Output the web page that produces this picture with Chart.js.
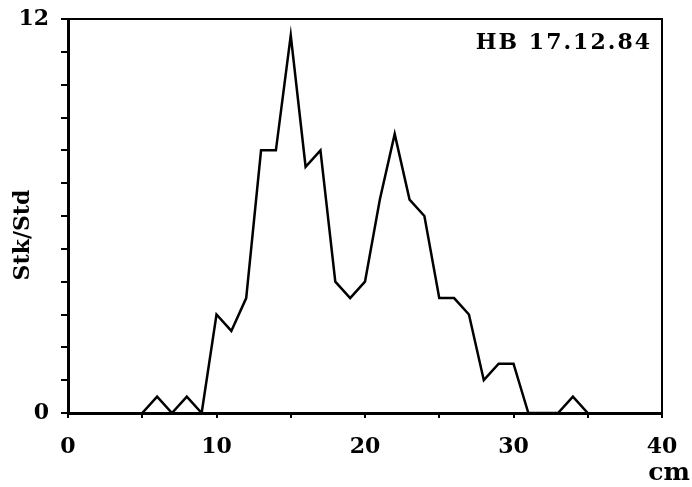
<!DOCTYPE html>
<html><head><meta charset="utf-8">
<script src="https://cdn.jsdelivr.net/npm/chart.js@4/dist/chart.umd.min.js"></script>
<style>html,body{margin:0;padding:0;background:#fff}canvas{display:block}</style>
</head><body>
<canvas id="c" width="692" height="487"></canvas>
<script>
// Length classes (cm) and catch rate (Stk/Std)
const lengthsCm = [5,6,7,8,9,10,11,12,13,14,15,16,17,18,19,20,21,22,23,24,25,26,27,28,29,30,31,32,33,34,35];
const catchRate = [0,0.5,0,0.5,0,3,2.5,3.5,8,8,11.5,7.5,8,4,3.5,4,6.5,8.5,6.5,6,3.5,3.5,3,1,1.5,1.5,0,0,0,0.5,0];
const xTickLabels = [0,10,20,30,40];
const yTickLabels = [0,12];
const annotationText = 'HB 17.12.84';
const xAxisTitle = 'cm';
const yAxisTitle = 'Stk/Std';

const FONT = '"DejaVu Serif", serif';

const points = lengthsCm.map((x, i) => ({x: x, y: catchRate[i]}));

const framePlugin = {
  id: 'frame',
  afterDraw(chart) {
    const {ctx, chartArea: a} = chart;
    ctx.save();
    ctx.strokeStyle = '#000';
    ctx.lineWidth = 2;
    ctx.beginPath();
    ctx.moveTo(a.left, a.top);
    ctx.lineTo(a.right, a.top);
    ctx.lineTo(a.right, a.bottom);
    ctx.stroke();
    ctx.fillStyle = '#000';
    ctx.textBaseline = 'alphabetic';
    ctx.font = 'bold 22px ' + FONT;
    ctx.textAlign = 'right';
    try { ctx.letterSpacing = '2px'; } catch (e) {}
    ctx.fillText(annotationText, a.right - 10, 49);
    try { ctx.letterSpacing = '0px'; } catch (e) {}
    ctx.font = 'bold 25px ' + FONT;
    ctx.fillText(xAxisTitle, 690, 480);
    // y axis title
    ctx.save();
    ctx.translate(29, 235);
    ctx.rotate(-Math.PI / 2);
    ctx.textAlign = 'center';
    ctx.font = 'bold 22px ' + FONT;
    ctx.fillText(yAxisTitle, 0, 0);
    ctx.restore();
    ctx.restore();
  }
};

new Chart(document.getElementById('c'), {
  type: 'line',
  data: {
    datasets: [{
      data: points,
      borderColor: '#000',
      borderWidth: 2.5,
      pointRadius: 0,
      tension: 0,
      fill: false
    }]
  },
  options: {
    responsive: false,
    animation: false,
    devicePixelRatio: 1,
    layout: {padding: {top: 19, right: 30, bottom: 0, left: 0}},
    plugins: {legend: {display: false}, tooltip: {enabled: false}},
    scales: {
      x: {
        type: 'linear', min: 0, max: 40,
        afterFit(s) { s.height = 74; s.paddingRight = 0; s.paddingLeft = 0; },
        ticks: {
          stepSize: 5, autoSkip: false, maxRotation: 0, padding: 16,
          color: '#000', font: {family: FONT, size: 22, weight: 'bold'},
          callback: v => xTickLabels.includes(v) ? String(v) : ''
        },
        grid: {drawOnChartArea: false, drawTicks: true, tickLength: 5, color: '#000', lineWidth: 2},
        border: {display: true, color: '#000', width: 3}
      },
      y: {
        min: 0, max: 12,
        afterFit(s) { s.width = 68; s.paddingTop = 0; s.paddingBottom = 0; },
        ticks: {
          stepSize: 1, autoSkip: false, padding: 12,
          color: '#000', font: {family: FONT, size: 22, weight: 'bold'},
          callback: v => yTickLabels.includes(v) ? String(v) : ''
        },
        grid: {drawOnChartArea: false, drawTicks: true, tickLength: 7, color: '#000', lineWidth: 2},
        border: {display: true, color: '#000', width: 3}
      }
    }
  },
  plugins: [framePlugin]
});
</script>
</body></html>
